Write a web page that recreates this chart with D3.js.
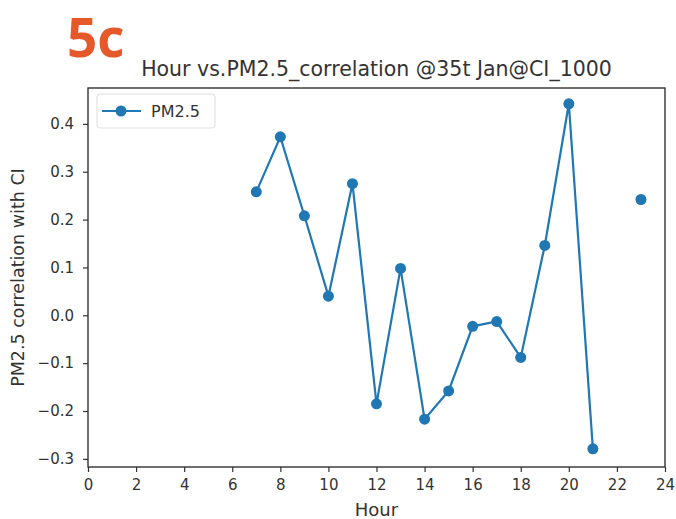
<!DOCTYPE html>
<html>
<head>
<meta charset="utf-8">
<script src="https://cdn.jsdelivr.net/npm/d3@7"></script>
<style>
  body { margin: 0; background: #fff; }
  svg text { font-family: "DejaVu Sans", sans-serif; fill: #333; }
</style>
</head>
<body>
<div id="chart"></div>
<script>
// hourly correlation of PM2.5 with CI (hour 22 has no value)
var hours = [7, 8, 9, 10, 11, 12, 13, 14, 15, 16, 17, 18, 19, 20, 21, 22, 23];
var pm25 = [0.258, 0.373, 0.208, 0.040, 0.275, -0.185, 0.098, -0.217, -0.158,
            -0.023, -0.013, -0.088, 0.146, 0.442, -0.279, null, 0.242];
var xTicks = [0, 2, 4, 6, 8, 10, 12, 14, 16, 18, 20, 22, 24];
var yTicks = [-0.3, -0.2, -0.1, 0.0, 0.1, 0.2, 0.3, 0.4];

var width = 676, height = 519;
var margin = {top: 88, right: 11, bottom: 52, left: 88};
var blue = "#1f77b4";

var svg = d3.select("#chart")
    .append("svg")
    .attr("width", width)
    .attr("height", height);

var x = d3.scaleLinear()
    .domain([0, 24])
    .range([margin.left, width - margin.right]);

var y = d3.scaleLinear()
    .domain([-0.317, 0.475])
    .range([height - margin.bottom, margin.top]);

// panel label
svg.append("text")
    .attr("x", 67)
    .attr("y", 57)
    .style("font-family", "'Open Sans', sans-serif")
    .style("font-weight", "bold")
    .style("font-size", "53px")
    .style("fill", "#e5582a")
    .text("5c");

svg.append("text")
    .attr("x", (margin.left + width - margin.right) / 2)
    .attr("y", 76)
    .attr("text-anchor", "middle")
    .style("font-size", "20.5px")
    .text("Hour vs.PM2.5_correlation @35t Jan@CI_1000");

// axes
var xAxis = svg.append("g")
    .attr("transform", "translate(0," + (height - margin.bottom) + ")")
    .call(d3.axisBottom(x).tickValues(xTicks).tickSize(5).tickPadding(7));

var yAxis = svg.append("g")
    .attr("transform", "translate(" + margin.left + ",0)")
    .call(d3.axisLeft(y).tickValues(yTicks).tickSize(5).tickPadding(9)
        .tickFormat(function(d) { return d3.format(".1f")(d).replace("-", "\u2212"); }));

[xAxis, yAxis].forEach(function(a) {
  a.selectAll("text").style("font-size", "15px").style("fill", "#333");
  a.selectAll("line").attr("stroke", "#333").attr("stroke-width", 1.2);
  a.select(".domain").remove();
});

// frame
svg.append("rect")
    .attr("x", margin.left)
    .attr("y", margin.top)
    .attr("width", width - margin.right - margin.left)
    .attr("height", height - margin.bottom - margin.top)
    .attr("fill", "none")
    .attr("stroke", "#333")
    .attr("stroke-width", 1.4);

svg.append("text")
    .attr("x", (margin.left + width - margin.right) / 2)
    .attr("y", 516)
    .attr("text-anchor", "middle")
    .style("font-size", "18px")
    .text("Hour");

svg.append("text")
    .attr("transform", "translate(24," + ((margin.top + height - margin.bottom) / 2) + ") rotate(-90)")
    .attr("text-anchor", "middle")
    .style("font-size", "17.5px")
    .text("PM2.5 correlation with CI");

// line and markers
var data = hours.map(function(h, i) { return {h: h, v: pm25[i]}; });

var line = d3.line()
    .defined(function(d) { return d.v !== null; })
    .x(function(d) { return x(d.h); })
    .y(function(d) { return y(d.v); });

svg.append("path")
    .datum(data)
    .attr("d", line)
    .attr("fill", "none")
    .attr("stroke", blue)
    .attr("stroke-width", 2.2);

svg.selectAll(".dot")
    .data(data.filter(function(d) { return d.v !== null; }))
    .enter()
    .append("circle")
    .attr("class", "dot")
    .attr("cx", function(d) { return x(d.h); })
    .attr("cy", function(d) { return y(d.v); })
    .attr("r", 5.5)
    .attr("fill", blue);

// legend
var legend = svg.append("g").attr("transform", "translate(97,94)");
legend.append("rect")
    .attr("width", 118)
    .attr("height", 34)
    .attr("rx", 3)
    .attr("fill", "#fff")
    .attr("stroke", "#ddd");
legend.append("line")
    .attr("x1", 5).attr("x2", 44)
    .attr("y1", 17).attr("y2", 17)
    .attr("stroke", blue)
    .attr("stroke-width", 2.2);
legend.append("circle")
    .attr("cx", 24).attr("cy", 17).attr("r", 5.5)
    .attr("fill", blue);
legend.append("text")
    .attr("x", 54)
    .attr("y", 23)
    .style("font-size", "16px")
    .text("PM2.5");
</script>
</body>
</html>
